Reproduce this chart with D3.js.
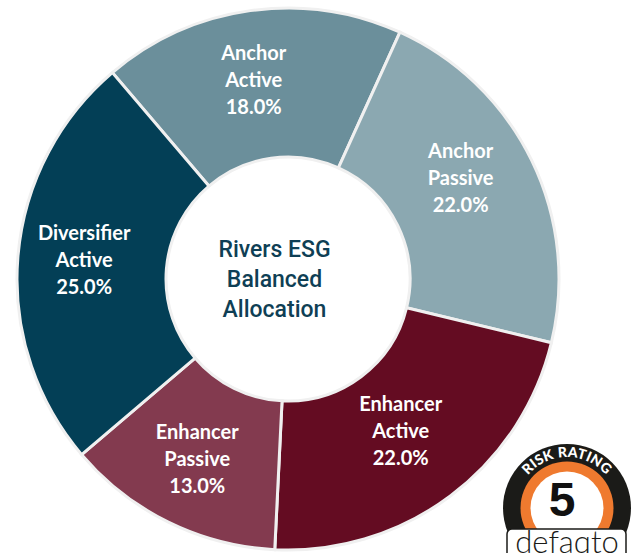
<!DOCTYPE html>
<html><head><meta charset="utf-8">
<script src="https://cdn.jsdelivr.net/npm/d3@7"></script>
<style>html,body{margin:0;padding:0;background:#fff;}svg{display:block;}</style>
</head><body>
<svg id="chart" width="634" height="553"></svg>
<script>
const categories = ["Anchor Active", "Anchor Passive", "Enhancer Active", "Enhancer Passive", "Diversifier Active"];
const labelLines = [["Anchor","Active"],["Anchor","Passive"],["Enhancer","Active"],["Enhancer","Passive"],["Diversifier","Active"]];
const values = [18.0, 22.0, 22.0, 13.0, 25.0];
const colors = ["#6b8f9b", "#8ba8b1", "#640c22", "#833a4f", "#033f56"];
const centerTitle = ["Rivers ESG", "Balanced", "Allocation"];
const riskRating = "5";

const svg = d3.select("#chart");
const cx = 288, cy = 279, rOuter = 271, rInner = 122;
const deg = Math.PI / 180;
const start = -40.4 * deg;

const pie = d3.pie().sort(null).value(d => d).startAngle(start).endAngle(start + 2 * Math.PI);
const arcs = pie(values);
const arc = d3.arc().innerRadius(rInner).outerRadius(rOuter);

const g = svg.append("g").attr("transform", `translate(${cx},${cy})`);
g.selectAll("path.slice").data(arcs).join("path")
  .attr("class", "slice")
  .attr("d", arc)
  .attr("fill", (d, i) => colors[i])
  .attr("stroke", "#f0f0f0")
  .attr("stroke-width", 3)
  .attr("stroke-linejoin", "miter");

// label nudges (relative to arc centroid)
const nudge = [[-7, -4], [-4, -15], [-5, -5], [-4, 4], [-8, -3]];
const fmt = d3.format(".1f");
const lineH = 27;
arcs.forEach((d, i) => {
  const [x, y] = arc.centroid(d);
  const lx = x + nudge[i][0], ly = y + nudge[i][1];
  const lines = labelLines[i].concat([fmt(values[i]) + "%"]);
  const t = g.append("text")
    .attr("text-anchor", "middle")
    .attr("fill", "#ffffff")
    .attr("font-family", "Lato, 'Open Sans', sans-serif")
    .attr("font-weight", 700)
    .attr("font-size", 20);
  lines.forEach((ln, k) => {
    t.append("tspan").attr("x", lx).attr("y", ly + (k - 1) * lineH + 7).text(ln);
  });
});

// center title
const ct = g.append("text")
  .attr("text-anchor", "middle")
  .attr("fill", "#0f3f55")
  .attr("font-family", "Roboto, 'Liberation Sans', sans-serif")
  .attr("font-weight", 500)
  .attr("font-size", 23);
centerTitle.forEach((ln, k) => {
  ct.append("tspan").attr("x", -13.5).attr("y", (k - 1) * 29.7 + 8).text(ln);
});

// Risk rating badge
const bx = 567, by = 508;
const b = svg.append("g").attr("transform", `translate(${bx},${by})`);
b.append("circle").attr("r", 64).attr("fill", "#1b1b18");
b.append("circle").attr("r", 46.5).attr("fill", "#ef7a2f");
b.append("circle").attr("r", 36.5).attr("fill", "#ffffff");
const rr = 51;
b.append("path").attr("id", "riskArc")
  .attr("d", `M ${-rr * Math.cos(15 * deg)} ${-rr * Math.sin(15 * deg)} A ${rr} ${rr} 0 0 1 ${rr * Math.cos(15 * deg)} ${-rr * Math.sin(15 * deg)}`)
  .attr("fill", "none");
b.append("text")
  .attr("fill", "#ffffff")
  .attr("font-family", "Lato, 'Open Sans', sans-serif")
  .attr("font-weight", 900)
  .attr("font-size", 14)
  .attr("letter-spacing", 0.3)
  .append("textPath")
  .attr("href", "#riskArc")
  .attr("startOffset", "50%")
  .attr("text-anchor", "middle")
  .text("RISK RATING");
b.append("text")
  .attr("x", -5).attr("y", 8)
  .attr("text-anchor", "middle")
  .attr("fill", "#111")
  .attr("font-family", "'Liberation Sans', Arial, sans-serif")
  .attr("font-weight", 700)
  .attr("font-size", 48)
  .text(riskRating);
b.append("rect")
  .attr("x", -60).attr("y", 21).attr("width", 119).attr("height", 40).attr("rx", 5)
  .attr("fill", "#ffffff").attr("stroke", "#1b1b18").attr("stroke-width", 1.5);
b.append("text")
  .attr("x", 0).attr("y", 45)
  .attr("text-anchor", "middle")
  .attr("fill", "#1b1b18")
  .attr("font-family", "Lato, 'Open Sans', sans-serif")
  .attr("font-weight", 300)
  .attr("font-size", 31)
  .text("defaqto");
</script>
</body></html>
